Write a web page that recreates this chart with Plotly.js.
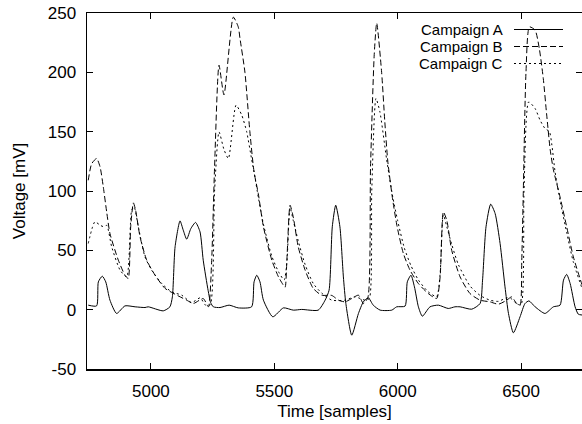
<!DOCTYPE html>
<html>
<head>
<meta charset="utf-8">
<script src="https://cdn.plot.ly/plotly-3.0.1.min.js"></script>
<style>
  html, body { margin: 0; padding: 0; background: #fff; }
  #chart { width: 582px; height: 424px; }
</style>
</head>
<body>
<div id="chart"></div>
<script>
// Campaign A (solid)
const timeA = [4746, 4780, 4787, 4803, 4817, 4834, 4861, 4895, 4936, 4976, 4989, 5050, 5077, 5087,
  5098, 5118, 5131, 5145, 5162, 5181, 5199, 5212, 5232, 5242, 5253, 5280, 5317, 5354, 5408, 5418,
  5429, 5442, 5456, 5494, 5537, 5577, 5611, 5678, 5706, 5722, 5735, 5749, 5766, 5780, 5790, 5814,
  5841, 5861, 5881, 5901, 5929, 5976, 5996, 6030, 6039, 6054, 6068, 6084, 6100, 6131, 6165, 6205,
  6232, 6253, 6300, 6334, 6344, 6358, 6377, 6395, 6415, 6435, 6449, 6469, 6496, 6516, 6532, 6557,
  6597, 6631, 6658, 6672, 6685, 6699, 6719, 6732, 6747];
const campaignA = [3.8, 3.2, 23.4, 28.2, 23.4, 8, -3.2, 3.2, 2.4, 1.8, 2.4, -1, 2.4, 10.8,
  53, 74.8, 67, 59.4, 68.4, 73.5, 65.6, 41.7, 16, 6, 2.4, 1.8, 3.8, 1.5, 2.4, 23.4,
  29, 23.4, 8, -6, 1.5, -0.4, 0.2, -0.4, 8, 16.4, 69.8, 88, 69.8, 27.6, 5.2, -21.5,
  -3.2, 6.6, 10, 3.8, -0.4, -0.4, 2.4, 3, 23.4, 29, 19.2, 2.4, -5.5, 2.4, 3.8, 1,
  2.4, 2.4, 0.4, 5.2, 24.9, 69.8, 88.9, 81, 55.8, 19.2, -3.2, -19.5, -6, 5.2, 7.4, 2.4,
  -3.2, 2.4, 3.8, 24.9, 29.7, 22, 2.4, -3.8, -4.5];

// Campaign B (dashed)
const timeB = [4746, 4760, 4780, 4794, 4807, 4821, 4834, 4868, 4895, 4908, 4918, 4929, 4938, 4956,
  4983, 5017, 5057, 5098, 5145, 5172, 5212, 5233, 5246, 5258, 5276, 5296, 5334, 5354, 5361, 5381,
  5401, 5418, 5435, 5456, 5490, 5517, 5537, 5544, 5551, 5564, 5577, 5597, 5625, 5658, 5692, 5733,
  5760, 5787, 5814, 5841, 5861, 5879, 5890, 5905, 5915, 5935, 5948, 5960, 5980, 5998, 6023, 6050,
  6084, 6124, 6158, 6172, 6185, 6199, 6219, 6253, 6293, 6334, 6374, 6408, 6442, 6462, 6482, 6496,
  6503, 6509, 6520, 6534, 6557, 6574, 6590, 6604, 6618, 6631, 6658, 6685, 6712, 6747];
const campaignB = [109, 123, 127.4, 120.3, 103.5, 82, 64.2, 41.7, 29, 26.3, 69.8, 90, 83.8, 61.3,
  41.7, 29, 18, 13, 8, 5.2, 9.4, 2.4, 40, 120, 206, 181, 246.5, 238.3, 228.5, 200,
  150, 116, 98, 69.8, 41.7, 27.6, 20.6, 19, 41.7, 88, 78, 53, 33.3, 17.9, 12.2, 12,
  8, 6.6, 9.4, 12.2, 5.2, 10, 120, 215, 241.5, 200, 158, 125, 92.3, 69.8, 47.4, 33.3,
  22, 13.6, 9.4, 27.6, 82.4, 75.4, 50, 27.6, 13.6, 8, 6.6, 4.6, 8, 10.8, 5.2, 3.8,
  41.7, 98, 200, 238.3, 235.5, 220, 195, 164, 135, 118, 95, 69.8, 44.5, 21];

// Campaign C (dotted)
const timeC = [4746, 4773, 4794, 4807, 4821, 4841, 4875, 4902, 4922, 4932, 4949, 4976, 5003, 5044,
  5084, 5125, 5165, 5200, 5220, 5240, 5258, 5276, 5296, 5314, 5345, 5368, 5388, 5408, 5418, 5435,
  5456, 5490, 5517, 5540, 5551, 5564, 5577, 5597, 5625, 5658, 5692, 5733, 5787, 5827, 5868, 5885,
  5895, 5912, 5928, 5955, 5980, 6000, 6027, 6054, 6084, 6124, 6158, 6172, 6185, 6199, 6219, 6246,
  6293, 6334, 6374, 6408, 6442, 6462, 6482, 6500, 6512, 6531, 6557, 6577, 6597, 6615, 6625, 6638,
  6660, 6685, 6712, 6747];
const campaignC = [55.8, 74, 71.2, 70, 71, 53, 33.3, 27.6, 83.8, 86.6, 69.8, 44.5, 33.3, 22,
  15, 12.2, 6, 10, 4, 4, 100, 149.8, 135, 127.4, 172.3, 164, 150, 127, 116, 95,
  72, 45, 32, 25, 40, 86, 75, 58, 38, 22, 14, 8, 8, 10.8, 8, 9.4,
  100, 178, 166.7, 127, 95, 75, 52, 37, 25, 15, 11, 30, 80, 70, 55, 38,
  20, 12, 8, 7, 10, 9, 5, 4, 100, 175, 169.5, 159.7, 152.7, 150, 138.6, 116,
  90, 65, 40, 18];

const legendNames = ['Campaign A', 'Campaign B', 'Campaign C'];
const dashes = ['solid', '6px,3px', '2px,3px'];

// tick labels (gnuplot prints a plain hyphen for negatives)
const xTicks = [5000, 5500, 6000, 6500];
const yTicks = [-50, 0, 50, 100, 150, 200, 250];
const yTickText = ['-50', '0', '50', '100', '150', '200', '250'];

const font = { family: 'Liberation Sans, Arial, sans-serif', size: 17, color: '#000' };
const keyFont = Object.assign({}, font, { size: 15 });

function line(x, y, name, dash) {
  return {
    x: x, y: y, name: name, type: 'scatter', mode: 'lines',
    line: { color: '#000', width: 1, dash: dash, shape: 'spline', smoothing: 0.6 },
    hoverinfo: 'skip'
  };
}

const traces = [
  line(timeA, campaignA, legendNames[0], dashes[0]),
  line(timeB, campaignB, legendNames[1], dashes[1]),
  line(timeC, campaignC, legendNames[2], dashes[2])
];

// legend in gnuplot style: text on the left, line sample on the right
const annotations = [];
const shapes = [];
legendNames.forEach((name, i) => {
  const yPix = 29.5 + i * 17;
  const yPaper = 1 - (yPix - 13) / 356;
  annotations.push({
    text: name, xref: 'paper', yref: 'paper', x: (504 - 87) / 495, y: yPaper,
    xanchor: 'right', yanchor: 'middle', showarrow: false, font: keyFont, borderpad: 0
  });
  shapes.push({
    type: 'line', xref: 'paper', yref: 'paper',
    x0: (514 - 87) / 495, x1: (563 - 87) / 495, y0: yPaper, y1: yPaper,
    line: { color: '#000', width: 1, dash: dashes[i] }
  });
});

const axisBase = {
  showline: true, mirror: 'ticks', linecolor: '#000', linewidth: 1.5,
  ticks: 'inside', ticklen: 6, tickcolor: '#000', tickwidth: 1,
  showgrid: false, zeroline: false, tickfont: font
};

const layout = {
  width: 582, height: 424,
  margin: { l: 87, r: 0, t: 13, b: 55 },
  paper_bgcolor: '#fff', plot_bgcolor: '#fff',
  showlegend: false,
  font: font,
  xaxis: Object.assign({}, axisBase, {
    range: [4741, 6747], tickvals: xTicks, ticklabelstandoff: 6,
    title: { text: 'Time [samples]', font: font, standoff: 5 }
  }),
  yaxis: Object.assign({}, axisBase, {
    range: [-50, 250], tickvals: yTicks, ticktext: yTickText, ticklabelstandoff: 6,
    title: { text: 'Voltage [mV]', font: font, standoff: 18 }
  }),
  annotations: annotations,
  shapes: shapes
};

Plotly.newPlot('chart', traces, layout, { staticPlot: true, displayModeBar: false });
</script>
</body>
</html>
